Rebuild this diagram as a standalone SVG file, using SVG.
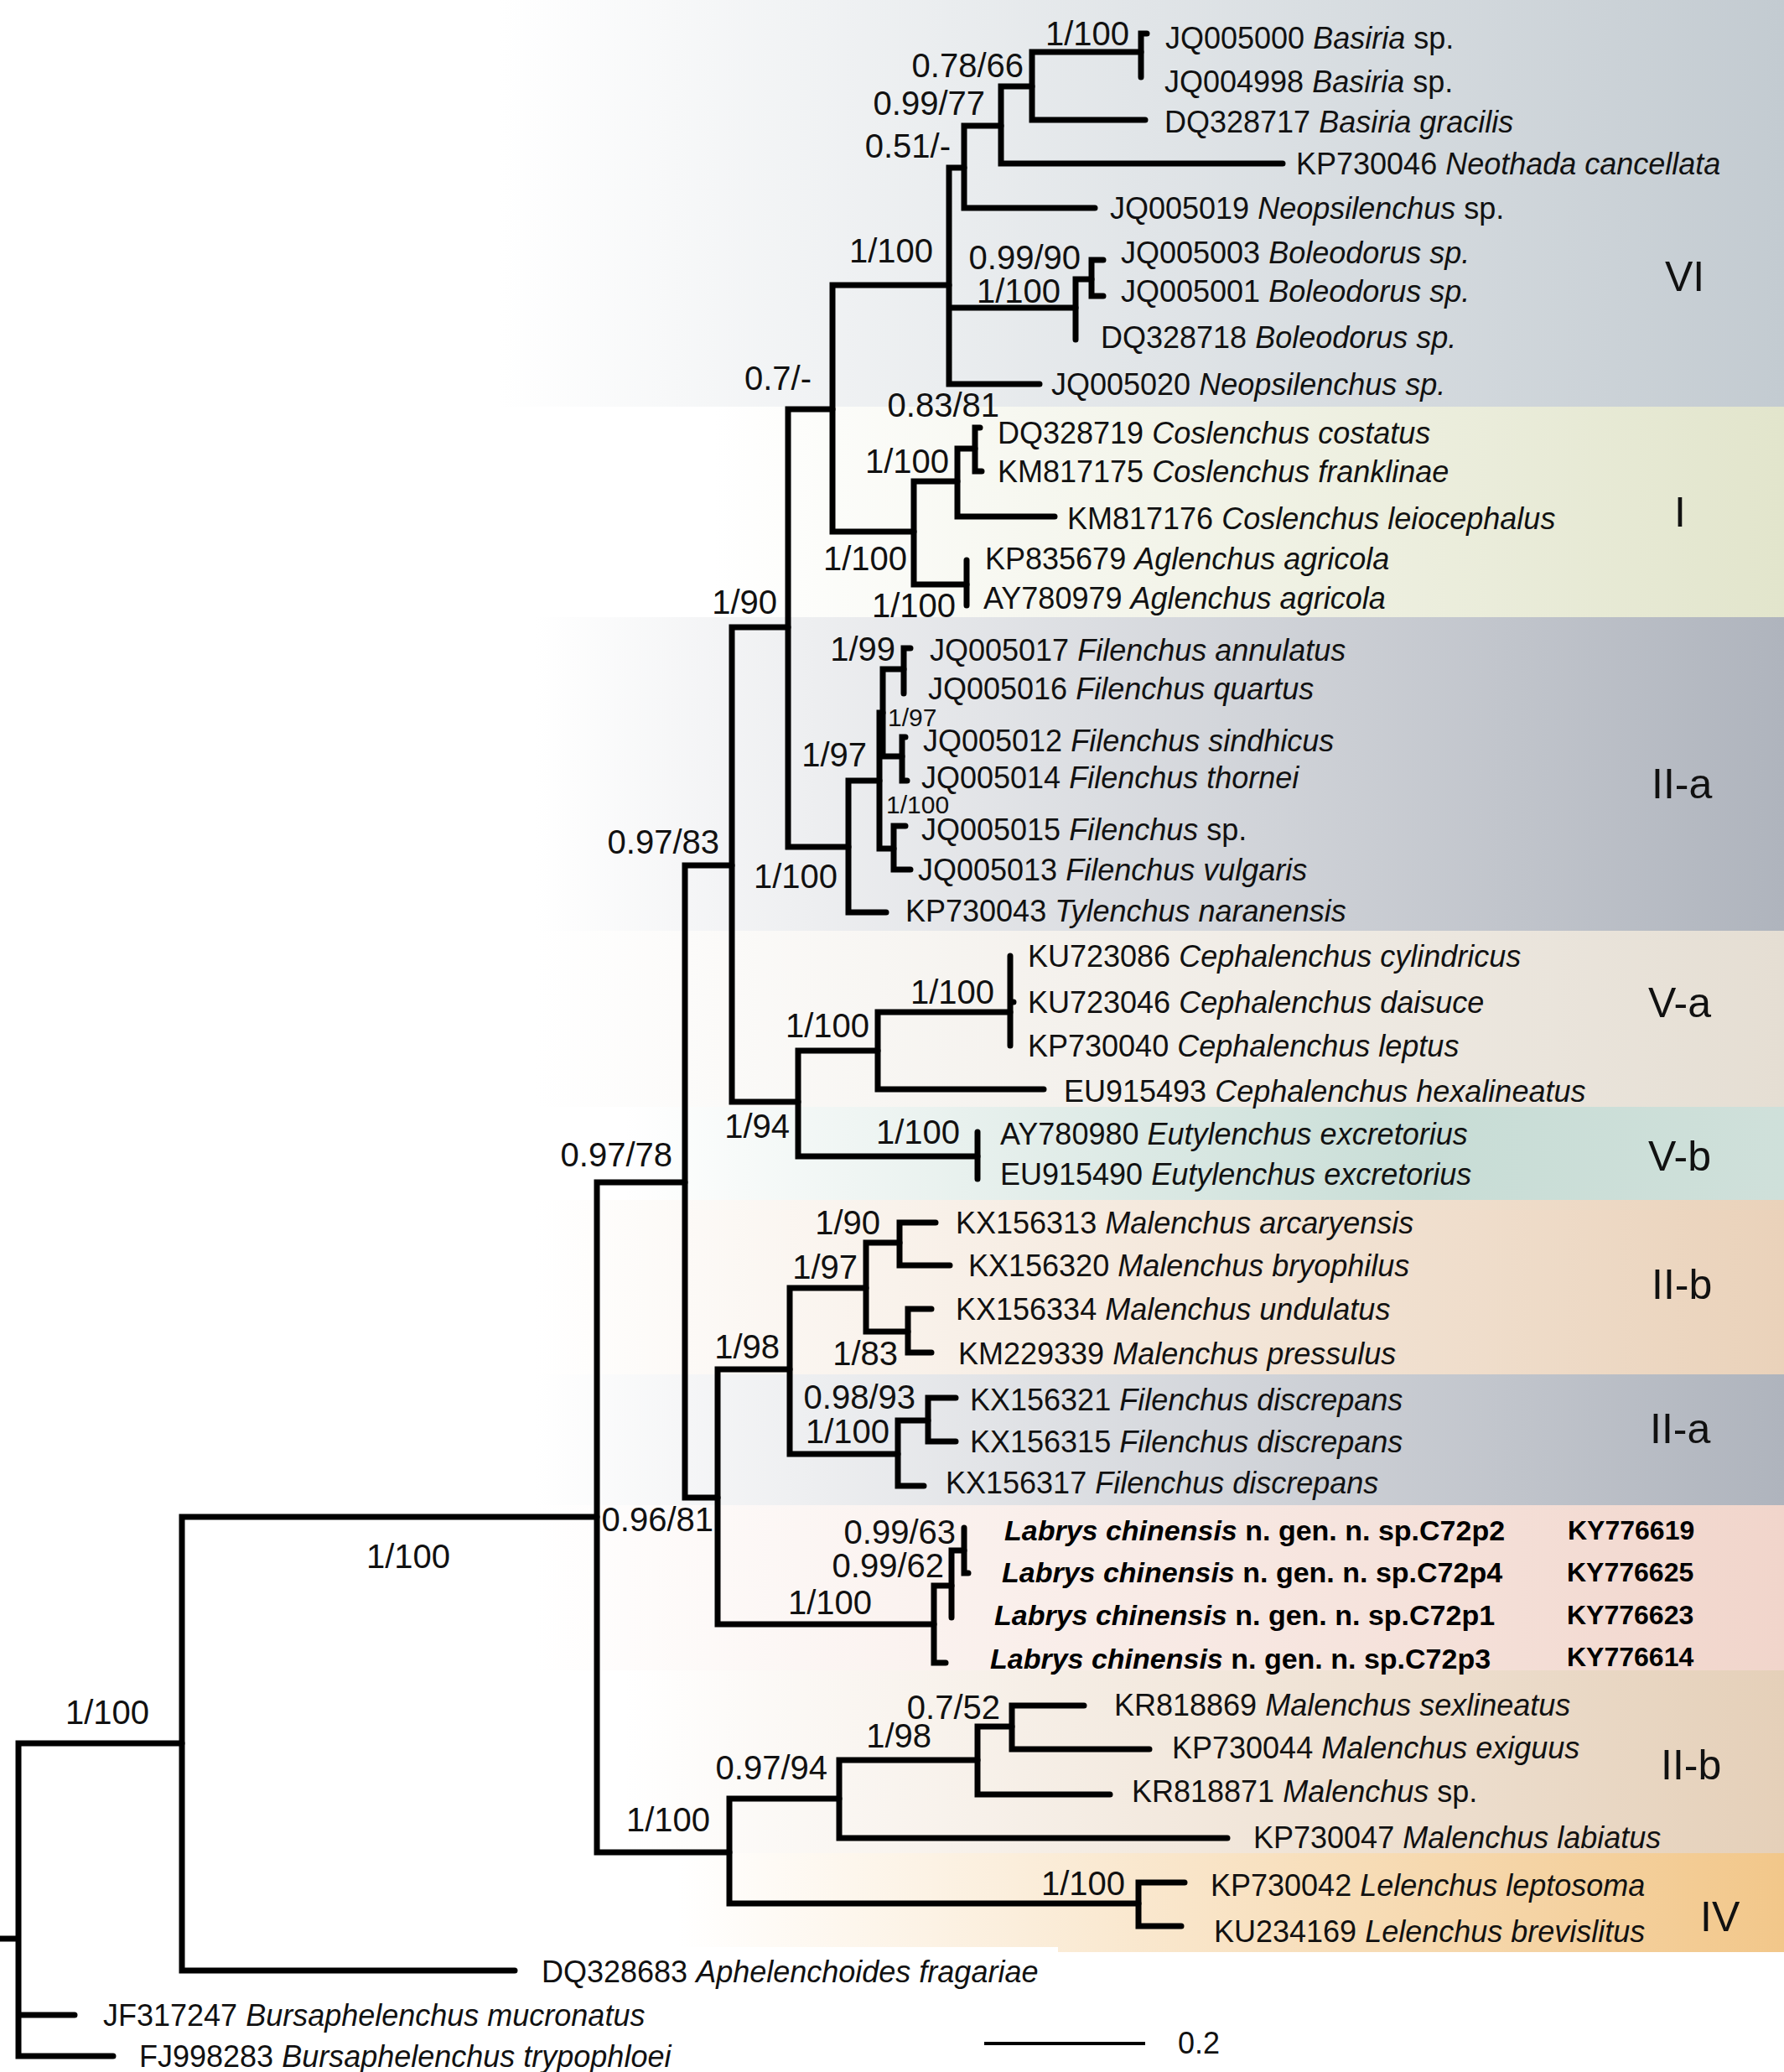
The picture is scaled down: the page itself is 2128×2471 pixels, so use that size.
<svg xmlns="http://www.w3.org/2000/svg" width="2128" height="2471" viewBox="0 0 2128 2471">
<defs>
<linearGradient id="gVI" x1="0" x2="1" y1="0" y2="0"><stop offset="0.28" stop-color="#ffffff"/><stop offset="1" stop-color="#c3cbd1"/></linearGradient>
<linearGradient id="gI" x1="0" x2="1" y1="0" y2="0"><stop offset="0.4" stop-color="#ffffff"/><stop offset="1" stop-color="#e2e5cc"/></linearGradient>
<linearGradient id="gIIa" x1="0" x2="1" y1="0" y2="0"><stop offset="0.3" stop-color="#ffffff"/><stop offset="1" stop-color="#afb4bd"/></linearGradient>
<linearGradient id="gVa" x1="0" x2="1" y1="0" y2="0"><stop offset="0.3" stop-color="#ffffff"/><stop offset="1" stop-color="#e5ded3"/></linearGradient>
<linearGradient id="gVb" x1="0" x2="1" y1="0" y2="0"><stop offset="0.35" stop-color="#ffffff"/><stop offset="0.8" stop-color="#c8ddd6"/><stop offset="1" stop-color="#cfe0da"/></linearGradient>
<linearGradient id="gIIb" x1="0" x2="1" y1="0" y2="0"><stop offset="0.3" stop-color="#ffffff"/><stop offset="1" stop-color="#ead2ba"/></linearGradient>
<linearGradient id="gLab" x1="0" x2="1" y1="0" y2="0"><stop offset="0.3" stop-color="#ffffff"/><stop offset="1" stop-color="#f1d5cb"/></linearGradient>
<linearGradient id="gIIb2" x1="0" x2="1" y1="0" y2="0"><stop offset="0.35" stop-color="#ffffff"/><stop offset="1" stop-color="#e5d0b9"/></linearGradient>
<linearGradient id="gIV" x1="0" x2="1" y1="0" y2="0"><stop offset="0.38" stop-color="#ffffff"/><stop offset="1" stop-color="#f2c78a"/></linearGradient>
</defs>
<style>
.br{fill:none;stroke:#000;stroke-width:7;stroke-linecap:round;stroke-linejoin:miter}
.tx{font-family:"Liberation Sans",Arial,sans-serif;font-size:36px;fill:#111}
.sp{font-family:"Liberation Sans",Arial,sans-serif;font-size:40px;fill:#111;text-anchor:end}
.ss{font-family:"Liberation Sans",Arial,sans-serif;font-size:30px;fill:#111}
.lb{font-family:"Liberation Sans",Arial,sans-serif;font-size:34px;font-weight:bold;fill:#000}
.ky{font-family:"Liberation Sans",Arial,sans-serif;font-size:32px;font-weight:bold;fill:#000}
.cl{font-family:"Liberation Sans",Arial,sans-serif;font-size:50px;fill:#111}
.it{font-style:italic}
</style>
<rect x="0" y="0" width="2128" height="2471" fill="#ffffff"/>
<g id="bands">
<rect x="0" y="0" width="2128" height="485" fill="url(#gVI)"/>
<rect x="0" y="485" width="2128" height="251" fill="url(#gI)"/>
<rect x="0" y="736" width="2128" height="374" fill="url(#gIIa)"/>
<rect x="0" y="1110" width="2128" height="210" fill="url(#gVa)"/>
<rect x="0" y="1320" width="2128" height="111" fill="url(#gVb)"/>
<rect x="0" y="1431" width="2128" height="208" fill="url(#gIIb)"/>
<rect x="0" y="1639" width="2128" height="156" fill="url(#gIIa)"/>
<rect x="0" y="1795" width="2128" height="197" fill="url(#gLab)"/>
<rect x="0" y="1992" width="2128" height="218" fill="url(#gIIb2)"/>
<rect x="0" y="2210" width="2128" height="118" fill="url(#gIV)"/>
<rect x="0" y="2322" width="1262" height="60" fill="#ffffff"/>
</g>
<g id="connectors">
<path class="br" d="M0,2312 H22 M217,2079 H22 V2452 H135 M22,2403 H89"/>
<path class="br" d="M712,1809 H217 V2350 H614"/>
<path class="br" d="M817,1410 H712 V2209 H870"/>
<path class="br" d="M873,1032 H817 V1786 H856"/>
<path class="br" d="M940,748 H873 V1314 H952"/>
<path class="br" d="M993,488 H940 V1010 H1012"/>
<path class="br" d="M1132,340 H993 V634 H1090"/>
<path class="br" d="M1150,200 H1132 V458 H1240 M1132,367 H1283"/>
<path class="br" d="M1194,150 H1150 V248 H1306"/>
<path class="br" d="M1231,103 H1194 V195 H1530"/>
<path class="br" d="M1361,62 H1231 V143 H1366"/>
<path class="br" d="M1368,40 H1361 V92"/>
<path class="br" d="M1302,333 H1283 V405"/>
<path class="br" d="M1316,310 H1302 V353 H1316"/>
<path class="br" d="M1142,574 H1090 V697 H1153"/>
<path class="br" d="M1163,535 H1142 V616 H1258"/>
<path class="br" d="M1169,510 H1163 V562 H1171"/>
<path class="br" d="M1153,668 V722"/>
<path class="br" d="M1049,931 H1012 V1088 H1057"/>
<path class="br" d="M1053,850 H1049 V1012 H1066"/>
<path class="br" d="M1078,798 H1053 V902 H1076"/>
<path class="br" d="M1086,773 H1078 V827"/>
<path class="br" d="M1080,879 H1076 V931 H1082"/>
<path class="br" d="M1080,985 H1066 V1037 H1086"/>
<path class="br" d="M1047,1253 H952 V1379 H1166"/>
<path class="br" d="M1205,1207 H1047 V1299 H1245"/>
<path class="br" d="M1205,1140 V1247 M1205,1195 H1209"/>
<path class="br" d="M1166,1350 V1406"/>
<path class="br" d="M942,1633 H856 V1937 H1114"/>
<path class="br" d="M1033,1536 H942 V1734 H1071"/>
<path class="br" d="M1073,1482 H1033 V1588 H1083"/>
<path class="br" d="M1116,1458 H1073 V1509 H1133"/>
<path class="br" d="M1111,1561 H1083 V1613 H1111"/>
<path class="br" d="M1107,1694 H1071 V1772 H1102"/>
<path class="br" d="M1140,1667 H1107 V1719 H1140"/>
<path class="br" d="M1135,1891 H1114 V1983 H1128"/>
<path class="br" d="M1150,1849 H1135 V1929"/>
<path class="br" d="M1150,1822 V1876 H1155"/>
<path class="br" d="M1001,2145 H870 V2270 H1358"/>
<path class="br" d="M1166,2099 H1001 V2192 H1464"/>
<path class="br" d="M1207,2059 H1166 V2140 H1324"/>
<path class="br" d="M1293,2034 H1207 V2086 H1371"/>
<path class="br" d="M1413,2245 H1358 V2297 H1409"/>
<path d="M1174,2437 H1366" stroke="#000" stroke-width="4" fill="none"/>
</g>
<g id="support">
<text class="sp" x="1347" y="54">1/100</text>
<text class="sp" x="1221" y="92">0.78/66</text>
<text class="sp" x="1175" y="137">0.99/77</text>
<text class="sp" x="1134" y="188">0.51/-</text>
<text class="sp" x="1113" y="313">1/100</text>
<text class="sp" x="1289" y="321">0.99/90</text>
<text class="sp" x="1265" y="361">1/100</text>
<text class="sp" x="968" y="465">0.7/-</text>
<text class="sp" x="1192" y="497">0.83/81</text>
<text class="sp" x="1132" y="564">1/100</text>
<text class="sp" x="1082" y="680">1/100</text>
<text class="sp" x="1140" y="736">1/100</text>
<text class="sp" x="927" y="732">1/90</text>
<text class="sp" x="1068" y="788">1/99</text>
<text class="ss" x="1059" y="866">1/97</text>
<text class="sp" x="1034" y="914">1/97</text>
<text class="ss" x="1057" y="970">1/100</text>
<text class="sp" x="999" y="1059">1/100</text>
<text class="sp" x="858" y="1018">0.97/83</text>
<text class="sp" x="1186" y="1197">1/100</text>
<text class="sp" x="1037" y="1237">1/100</text>
<text class="sp" x="942" y="1357">1/94</text>
<text class="sp" x="1145" y="1364">1/100</text>
<text class="sp" x="802" y="1391">0.97/78</text>
<text class="sp" x="1050" y="1472">1/90</text>
<text class="sp" x="1023" y="1525">1/97</text>
<text class="sp" x="930" y="1620">1/98</text>
<text class="sp" x="1071" y="1628">1/83</text>
<text class="sp" x="1092" y="1680">0.98/93</text>
<text class="sp" x="1061" y="1721">1/100</text>
<text class="sp" x="851" y="1826">0.96/81</text>
<text class="sp" x="537" y="1870">1/100</text>
<text class="sp" x="1140" y="1841">0.99/63</text>
<text class="sp" x="1126" y="1881">0.99/62</text>
<text class="sp" x="1040" y="1925">1/100</text>
<text class="sp" x="178" y="2056">1/100</text>
<text class="sp" x="1193" y="2050">0.7/52</text>
<text class="sp" x="1111" y="2084">1/98</text>
<text class="sp" x="987" y="2122">0.97/94</text>
<text class="sp" x="847" y="2184">1/100</text>
<text class="sp" x="1342" y="2260">1/100</text>
</g>
<g id="taxa">
<g id="t1"><text class="tx" x="1390" y="58">JQ005000 <tspan class="it">Basiria</tspan> sp.</text></g>
<g id="t2"><text class="tx" x="1389" y="110">JQ004998 <tspan class="it">Basiria</tspan> sp.</text></g>
<g id="t3"><text class="tx" x="1389" y="158">DQ328717 <tspan class="it">Basiria gracilis</tspan></text></g>
<g id="t4"><text class="tx" x="1546" y="208">KP730046 <tspan class="it">Neothada cancellata</tspan></text></g>
<g id="t5"><text class="tx" x="1324" y="261">JQ005019 <tspan class="it">Neopsilenchus</tspan> sp.</text></g>
<g id="t6"><text class="tx" x="1337" y="314">JQ005003 <tspan class="it">Boleodorus sp.</tspan></text></g>
<g id="t7"><text class="tx" x="1337" y="360">JQ005001 <tspan class="it">Boleodorus sp.</tspan></text></g>
<g id="t8"><text class="tx" x="1313" y="415">DQ328718 <tspan class="it">Boleodorus sp.</tspan></text></g>
<g id="t9"><text class="tx" x="1254" y="471">JQ005020 <tspan class="it">Neopsilenchus sp.</tspan></text></g>
<g id="t10"><text class="tx" x="1190" y="529">DQ328719 <tspan class="it">Coslenchus costatus</tspan></text></g>
<g id="t11"><text class="tx" x="1190" y="575">KM817175 <tspan class="it">Coslenchus franklinae</tspan></text></g>
<g id="t12"><text class="tx" x="1273" y="631">KM817176 <tspan class="it">Coslenchus leiocephalus</tspan></text></g>
<g id="t13"><text class="tx" x="1175" y="679">KP835679 <tspan class="it">Aglenchus agricola</tspan></text></g>
<g id="t14"><text class="tx" x="1173" y="726">AY780979 <tspan class="it">Aglenchus agricola</tspan></text></g>
<g id="t15"><text class="tx" x="1109" y="788">JQ005017 <tspan class="it">Filenchus annulatus</tspan></text></g>
<g id="t16"><text class="tx" x="1107" y="834">JQ005016 <tspan class="it">Filenchus quartus</tspan></text></g>
<g id="t17"><text class="tx" x="1101" y="896">JQ005012 <tspan class="it">Filenchus sindhicus</tspan></text></g>
<g id="t18"><text class="tx" x="1099" y="940">JQ005014 <tspan class="it">Filenchus thornei</tspan></text></g>
<g id="t19"><text class="tx" x="1099" y="1002">JQ005015 <tspan class="it">Filenchus</tspan> sp.</text></g>
<g id="t20"><text class="tx" x="1095" y="1050">JQ005013 <tspan class="it">Filenchus vulgaris</tspan></text></g>
<g id="t21"><text class="tx" x="1080" y="1099">KP730043 <tspan class="it">Tylenchus naranensis</tspan></text></g>
<g id="t22"><text class="tx" x="1226" y="1153">KU723086 <tspan class="it">Cephalenchus cylindricus</tspan></text></g>
<g id="t23"><text class="tx" x="1226" y="1208">KU723046 <tspan class="it">Cephalenchus daisuce</tspan></text></g>
<g id="t24"><text class="tx" x="1226" y="1260">KP730040 <tspan class="it">Cephalenchus leptus</tspan></text></g>
<g id="t25"><text class="tx" x="1269" y="1314">EU915493 <tspan class="it">Cephalenchus hexalineatus</tspan></text></g>
<g id="t26"><text class="tx" x="1193" y="1365">AY780980 <tspan class="it">Eutylenchus excretorius</tspan></text></g>
<g id="t27"><text class="tx" x="1193" y="1413">EU915490 <tspan class="it">Eutylenchus excretorius</tspan></text></g>
<g id="t28"><text class="tx" x="1140" y="1471">KX156313 <tspan class="it">Malenchus arcaryensis</tspan></text></g>
<g id="t29"><text class="tx" x="1155" y="1522">KX156320 <tspan class="it">Malenchus bryophilus</tspan></text></g>
<g id="t30"><text class="tx" x="1140" y="1574">KX156334 <tspan class="it">Malenchus undulatus</tspan></text></g>
<g id="t31"><text class="tx" x="1143" y="1627">KM229339 <tspan class="it">Malenchus pressulus</tspan></text></g>
<g id="t32"><text class="tx" x="1157" y="1682">KX156321 <tspan class="it">Filenchus discrepans</tspan></text></g>
<g id="t33"><text class="tx" x="1157" y="1732">KX156315 <tspan class="it">Filenchus discrepans</tspan></text></g>
<g id="t34"><text class="tx" x="1128" y="1781">KX156317 <tspan class="it">Filenchus discrepans</tspan></text></g>
<g id="t35"><text class="lb" x="1198" y="1837"><tspan class="it">Labrys chinensis</tspan> n. gen. n. sp.C72p2</text><text class="ky" x="1870" y="1836">KY776619</text></g>
<g id="t36"><text class="lb" x="1195" y="1887"><tspan class="it">Labrys chinensis</tspan> n. gen. n. sp.C72p4</text><text class="ky" x="1869" y="1886">KY776625</text></g>
<g id="t37"><text class="lb" x="1186" y="1938"><tspan class="it">Labrys chinensis</tspan> n. gen. n. sp.C72p1</text><text class="ky" x="1869" y="1937">KY776623</text></g>
<g id="t38"><text class="lb" x="1181" y="1990"><tspan class="it">Labrys chinensis</tspan> n. gen. n. sp.C72p3</text><text class="ky" x="1869" y="1987">KY776614</text></g>
<g id="t39"><text class="tx" x="1329" y="2046">KR818869 <tspan class="it">Malenchus sexlineatus</tspan></text></g>
<g id="t40"><text class="tx" x="1398" y="2097">KP730044 <tspan class="it">Malenchus exiguus</tspan></text></g>
<g id="t41"><text class="tx" x="1350" y="2149">KR818871 <tspan class="it">Malenchus</tspan> sp.</text></g>
<g id="t42"><text class="tx" x="1495" y="2204">KP730047 <tspan class="it">Malenchus labiatus</tspan></text></g>
<g id="t43"><text class="tx" x="1444" y="2261">KP730042 <tspan class="it">Lelenchus leptosoma</tspan></text></g>
<g id="t44"><text class="tx" x="1448" y="2316">KU234169 <tspan class="it">Lelenchus brevislitus</tspan></text></g>
<g id="t45"><text class="tx" x="646" y="2364">DQ328683 <tspan class="it">Aphelenchoides fragariae</tspan></text></g>
<g id="t46"><text class="tx" x="123" y="2416">JF317247 <tspan class="it">Bursaphelenchus mucronatus</tspan></text></g>
<g id="t47"><text class="tx" x="166" y="2465">FJ998283 <tspan class="it">Bursaphelenchus trypophloei</tspan></text></g>
</g>
<g id="clades">
<text class="cl" x="1986" y="347">VI</text>
<text class="cl" x="1997" y="628">I</text>
<text class="cl" x="1970" y="952">II-a</text>
<text class="cl" x="1966" y="1213">V-a</text>
<text class="cl" x="1966" y="1396">V-b</text>
<text class="cl" x="1970" y="1549">II-b</text>
<text class="cl" x="1968" y="1721">II-a</text>
<text class="cl" x="1981" y="2122">II-b</text>
<text class="cl" x="2028" y="2303">IV</text>
</g>
<g id="scale">
<text class="tx" x="1405" y="2449">0.2</text>
</g>
</svg>
